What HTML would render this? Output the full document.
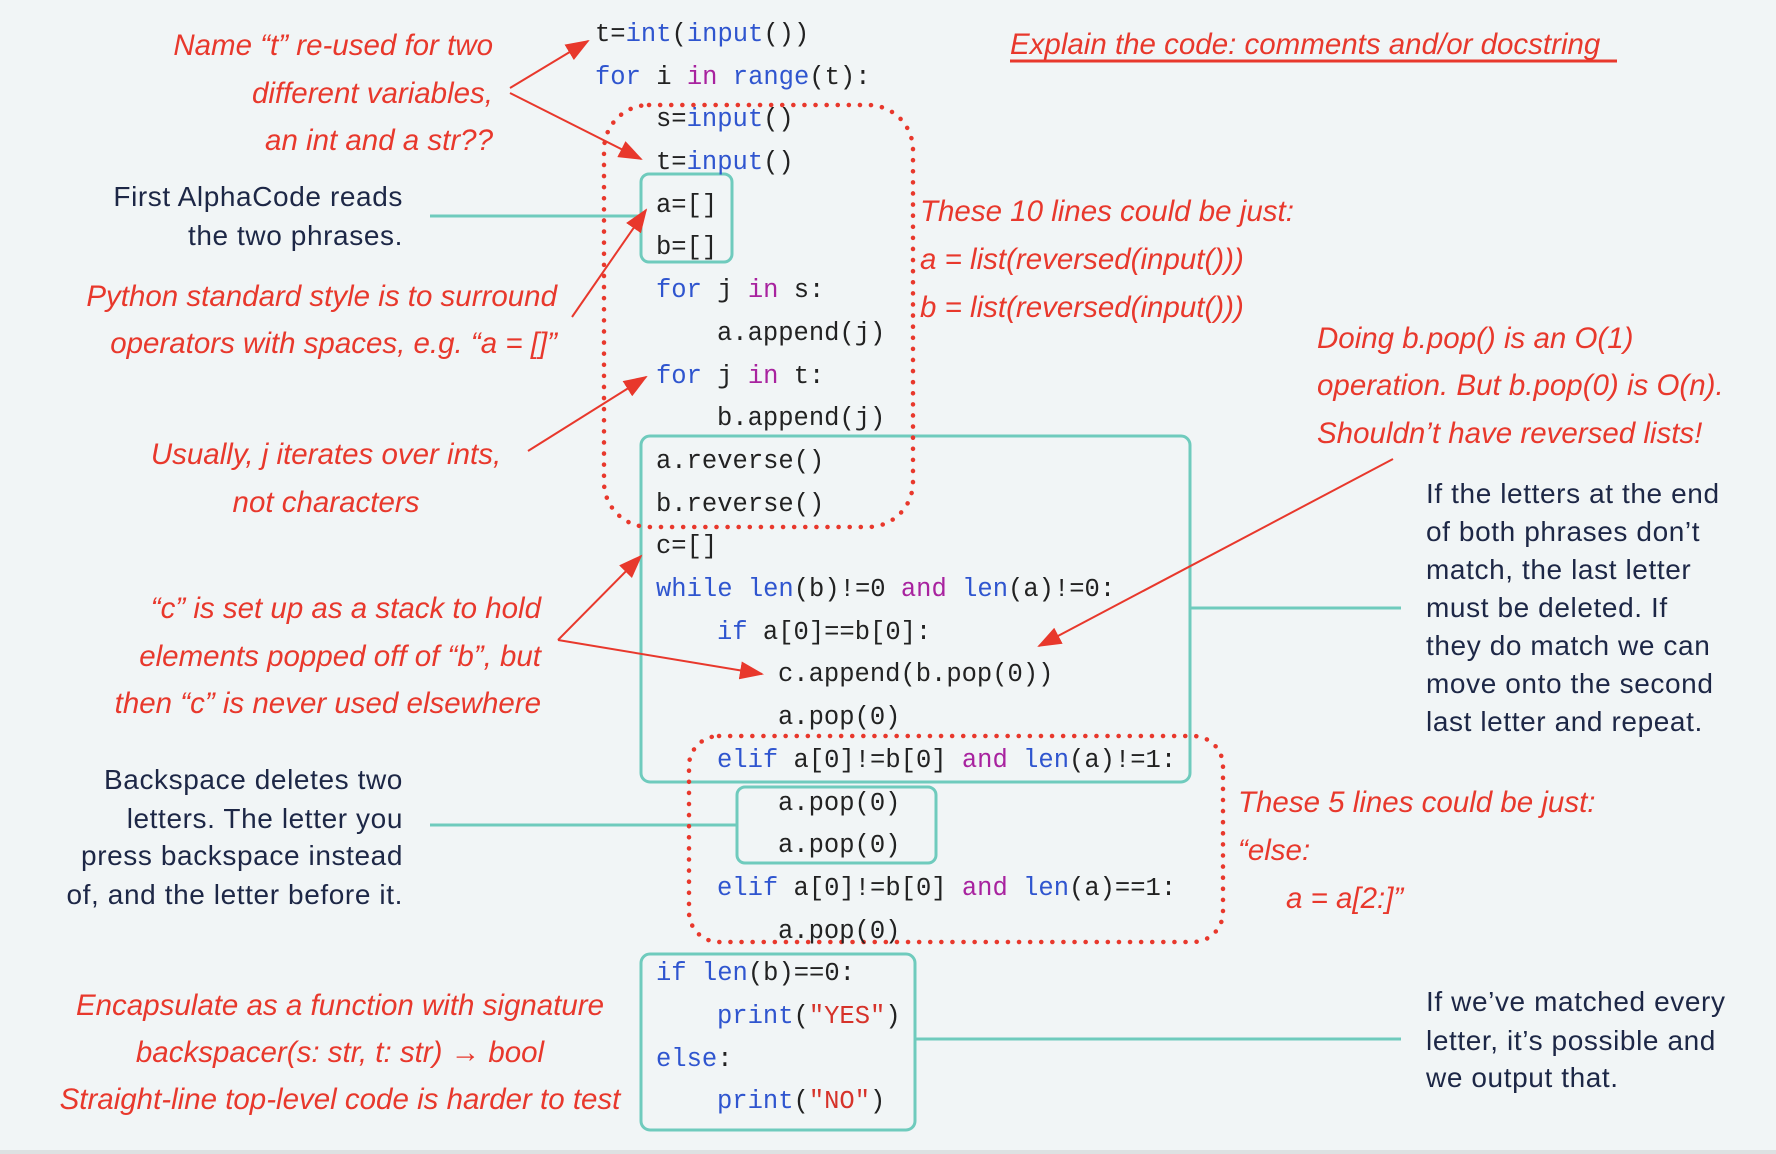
<!DOCTYPE html>
<html><head><meta charset="utf-8"><style>
html,body{margin:0;padding:0;background:#f1f5f6;}
svg{display:block}
.c{font-family:"Liberation Mono",monospace;font-size:25.5px;fill:#222;}
.k{fill:#2f55cf}.m{fill:#a8239f}.s{fill:#d6332a}
.n{font-family:"Liberation Sans",sans-serif;font-size:28px;fill:#1d2746;letter-spacing:0.6px}
.r{font-family:"Liberation Sans",sans-serif;font-style:italic;font-size:29.5px;fill:#e8382c}
</style></head><body>
<svg width="1776" height="1154" viewBox="0 0 1776 1154" xmlns="http://www.w3.org/2000/svg">
<defs>
<marker id="b" markerWidth="24" markerHeight="18" refX="22" refY="9" orient="auto" markerUnits="userSpaceOnUse" viewBox="0 0 24 18"><path d="M0,0 L24,9 L0,18 z" fill="#e8382c"/></marker></defs>
<rect width="1776" height="1154" fill="#f1f5f6"/>
<rect x="0" y="1150" width="1776" height="4" fill="#dde1e2"/>
<g fill="none" stroke="#6fcbbd" stroke-width="3">
<rect x="641" y="174" width="91" height="88" rx="8"/>
<rect x="641" y="436" width="549" height="346" rx="9"/>
<rect x="737" y="787" width="199" height="76" rx="8"/>
<rect x="641" y="954" width="274" height="176" rx="9"/>
<line x1="430" y1="216" x2="641" y2="216"/>
<line x1="1190" y1="608" x2="1401" y2="608"/>
<line x1="430" y1="825" x2="737" y2="825"/>
<line x1="915" y1="1039" x2="1401" y2="1039"/>
</g>
<g fill="none" stroke="#e8382c" stroke-width="4.5" stroke-dasharray="0.1 11" stroke-linecap="round">
<rect x="604" y="105" width="309" height="422" rx="45"/>
<rect x="689" y="736" width="534" height="206" rx="30"/>
</g>
<g stroke="#e8382c" stroke-width="2" fill="none" marker-end="url(#b)">
<line x1="510" y1="88" x2="588" y2="41"/>
<line x1="510" y1="93" x2="641" y2="159"/>
<line x1="572" y1="317" x2="646" y2="210"/>
<line x1="528" y1="451" x2="646" y2="377"/>
<line x1="558" y1="640" x2="641" y2="556"/>
<line x1="558" y1="640" x2="762" y2="674"/>
<line x1="1393" y1="459" x2="1039" y2="646"/>
</g>
<g class="c" xml:space="preserve">
<text x="595" y="41">t=<tspan class="k">int</tspan>(<tspan class="k">input</tspan>())</text>
<text x="595" y="84"><tspan class="k">for</tspan> i <tspan class="m">in</tspan> <tspan class="k">range</tspan>(t):</text>
<text x="656" y="126">s=<tspan class="k">input</tspan>()</text>
<text x="656" y="169">t=<tspan class="k">input</tspan>()</text>
<text x="656" y="212">a=[]</text>
<text x="656" y="254">b=[]</text>
<text x="656" y="297"><tspan class="k">for</tspan> j <tspan class="m">in</tspan> s:</text>
<text x="717" y="340">a.append(j)</text>
<text x="656" y="383"><tspan class="k">for</tspan> j <tspan class="m">in</tspan> t:</text>
<text x="717" y="425">b.append(j)</text>
<text x="656" y="468">a.reverse()</text>
<text x="656" y="511">b.reverse()</text>
<text x="656" y="553">c=[]</text>
<text x="656" y="596"><tspan class="k">while</tspan> <tspan class="k">len</tspan>(b)!=0 <tspan class="m">and</tspan> <tspan class="k">len</tspan>(a)!=0:</text>
<text x="717" y="639"><tspan class="k">if</tspan> a[0]==b[0]:</text>
<text x="778" y="681">c.append(b.pop(0))</text>
<text x="778" y="724">a.pop(0)</text>
<text x="717" y="767"><tspan class="k">elif</tspan> a[0]!=b[0] <tspan class="m">and</tspan> <tspan class="k">len</tspan>(a)!=1:</text>
<text x="778" y="810">a.pop(0)</text>
<text x="778" y="852">a.pop(0)</text>
<text x="717" y="895"><tspan class="k">elif</tspan> a[0]!=b[0] <tspan class="m">and</tspan> <tspan class="k">len</tspan>(a)==1:</text>
<text x="778" y="938">a.pop(0)</text>
<text x="656" y="980"><tspan class="k">if</tspan> <tspan class="k">len</tspan>(b)==0:</text>
<text x="717" y="1023"><tspan class="k">print</tspan>(<tspan class="s">"YES"</tspan>)</text>
<text x="656" y="1066"><tspan class="k">else</tspan>:</text>
<text x="717" y="1108"><tspan class="k">print</tspan>(<tspan class="s">"NO"</tspan>)</text>
</g>
<g class="n">
<text x="403" y="206" text-anchor="end">First AlphaCode reads</text>
<text x="403" y="245" text-anchor="end">the two phrases.</text>
<text x="403" y="789" text-anchor="end">Backspace deletes two</text>
<text x="403" y="828" text-anchor="end">letters. The letter you</text>
<text x="403" y="865" text-anchor="end">press backspace instead</text>
<text x="403" y="904" text-anchor="end">of, and the letter before it.</text>
<text x="1426" y="503">If the letters at the end</text>
<text x="1426" y="541">of both phrases don’t</text>
<text x="1426" y="579">match, the last letter</text>
<text x="1426" y="617">must be deleted. If</text>
<text x="1426" y="655">they do match we can</text>
<text x="1426" y="693">move onto the second</text>
<text x="1426" y="731">last letter and repeat.</text>
<text x="1426" y="1011">If we’ve matched every</text>
<text x="1426" y="1050">letter, it’s possible and</text>
<text x="1426" y="1087">we output that.</text>
</g>
<g class="r">
<text x="493" y="55" text-anchor="end">Name “t” re-used for two</text>
<text x="493" y="103" text-anchor="end">different variables,</text>
<text x="493" y="150" text-anchor="end">an int and a str??</text>
<text x="1010" y="54">Explain the code: comments and/or docstring</text>
<text x="920" y="221">These 10 lines could be just:</text>
<text x="920" y="269">a = list(reversed(input()))</text>
<text x="920" y="317">b = list(reversed(input()))</text>
<text x="557" y="306" text-anchor="end">Python standard style is to surround</text>
<text x="557" y="353" text-anchor="end">operators with spaces, e.g. “a = []”</text>
<text x="1317" y="348">Doing b.pop() is an O(1)</text>
<text x="1317" y="395">operation. But b.pop(0) is O(n).</text>
<text x="1317" y="443">Shouldn’t have reversed lists!</text>
<text x="326" y="464" text-anchor="middle">Usually, j iterates over ints,</text>
<text x="326" y="512" text-anchor="middle">not characters</text>
<text x="541" y="618" text-anchor="end">“c” is set up as a stack to hold</text>
<text x="541" y="666" text-anchor="end">elements popped off of “b”, but</text>
<text x="541" y="713" text-anchor="end">then “c” is never used elsewhere</text>
<text x="1238" y="812">These 5 lines could be just:</text>
<text x="1238" y="860">“else:</text>
<text x="1286" y="908">a = a[2:]”</text>
<text x="340" y="1015" text-anchor="middle">Encapsulate as a function with signature</text>
<text x="340" y="1062" text-anchor="middle">backspacer(s: str, t: str) → bool</text>
<text x="340" y="1109" text-anchor="middle">Straight-line top-level code is harder to test</text>
</g>
<line x1="1010" y1="61" x2="1617" y2="61" stroke="#e8382c" stroke-width="3"/>
</svg>
</body></html>
